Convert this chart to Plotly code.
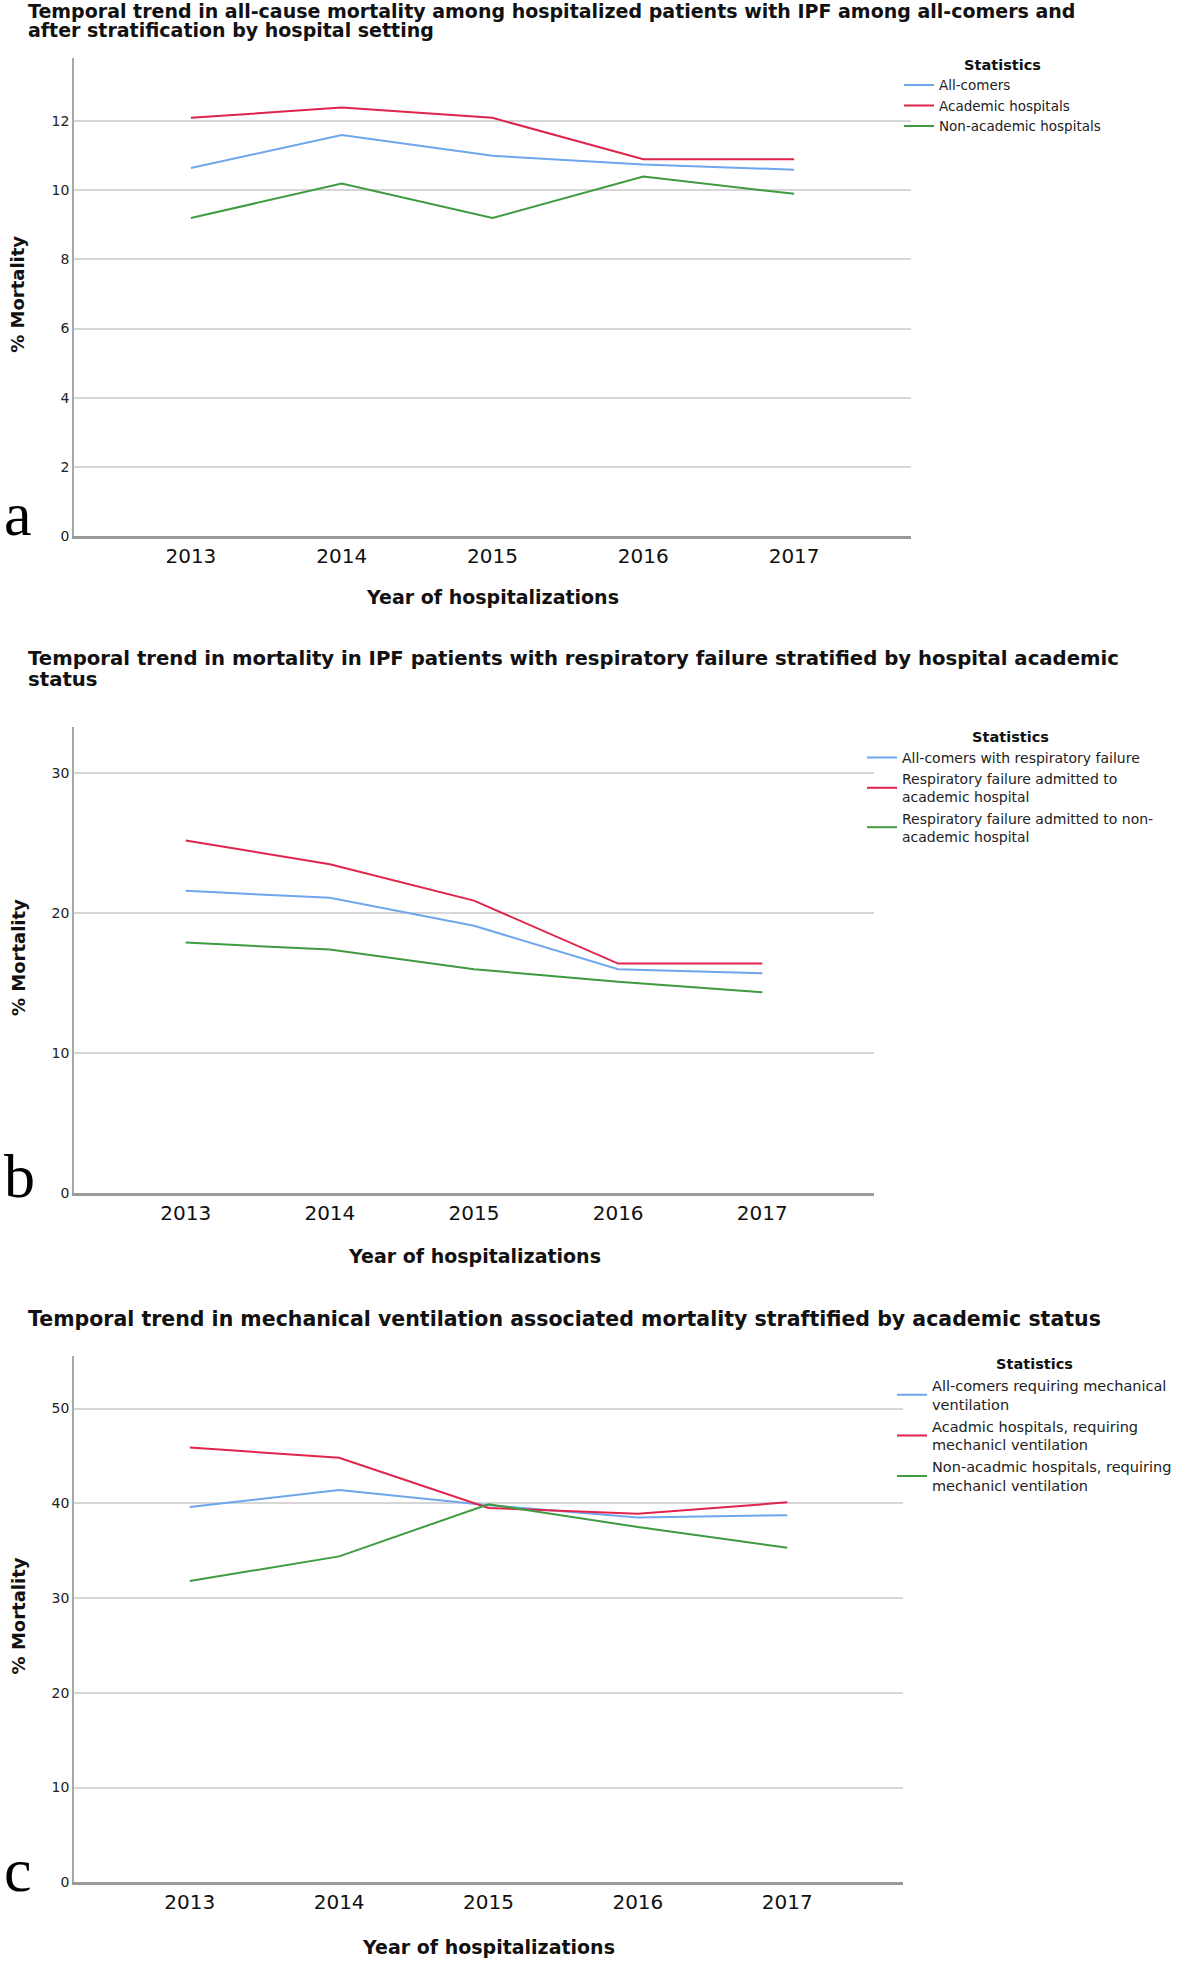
import plotly.graph_objects as go

W, H = 1181, 1964

# ---- data ----
years = [2013, 2014, 2015, 2016, 2017]

# panel a: all-cause mortality
a_all = [10.65, 11.6, 11.0, 10.75, 10.6]
a_acad = [12.1, 12.4, 12.1, 10.9, 10.9]
a_nonacad = [9.2, 10.2, 9.2, 10.4, 9.9]

# panel b: respiratory failure
b_all = [21.6, 21.1, 19.1, 16.0, 15.7]
b_acad = [25.2, 23.5, 20.9, 16.4, 16.4]
b_nonacad = [17.9, 17.4, 16.0, 15.1, 14.35]

# panel c: mechanical ventilation
c_all = [39.6, 41.4, 39.8, 38.5, 38.75]
c_acad = [45.9, 44.8, 39.5, 38.9, 40.1]
c_nonacad = [31.8, 34.4, 39.9, 37.5, 35.3]

names_a = ["All-comers", "Academic hospitals", "Non-academic hospitals"]
names_b = ["All-comers with respiratory failure",
           "Respiratory failure admitted to<br>academic hospital",
           "Respiratory failure admitted to non-<br>academic hospital"]
names_c = ["All-comers requiring mechanical<br>ventilation",
           "Acadmic hospitals, requiring<br>mechanicl ventilation",
           "Non-acadmic hospitals, requiring<br>mechanicl ventilation"]

titles = {
    "a": ["Temporal trend in all-cause mortality among hospitalized patients with IPF among all-comers and",
          "after stratification by hospital setting"],
    "b": ["Temporal trend in mortality in IPF patients with respiratory failure stratified by hospital academic",
          "status"],
    "c": ["Temporal trend in mechanical ventilation associated mortality straftified by academic status"],
}

colors = ["#6FA6EC", "#E0244C", "#3F9B3F"]
SANS = "DejaVu Sans"


def fx(p):
    return p / W


def fy(p):
    return 1 - p / H


# pixel geometry of each panel
panels = [
    dict(key="a", series=[a_all, a_acad, a_nonacad], names=names_a,
         l=74, r=911, t=58, b=538, ymax=13.84, dtick=2,
         title_y=[11, 30], title_size=19, xt_y=599, yt_y=296, letter_y=539,
         leg=(899, 51), leg_size=13.5),
    dict(key="b", series=[b_all, b_acad, b_nonacad], names=names_b,
         l=74, r=874, t=729.5, b=1197.8, ymax=33.35, dtick=10,
         title_y=[661, 682], title_size=19.7, xt_y=1261, yt_y=962, letter_y=1204,
         leg=(862, 726), leg_size=14),
    dict(key="c", series=[c_all, c_acad, c_nonacad], names=names_c,
         l=74, r=903, t=1362, b=1890, ymax=55.5, dtick=10,
         title_y=[1324], title_size=20.5, xt_y=1955, yt_y=1623, letter_y=1901,
         leg=(892, 1356), leg_size=14.5),
]

fig = go.Figure()
annotations = []
layout = {}

for i, p in enumerate(panels):
    n = "" if i == 0 else str(i + 1)
    legname = "legend" + n
    for j, (vals, name) in enumerate(zip(p["series"], p["names"])):
        fig.add_trace(go.Scatter(
            x=years, y=vals, mode="lines", name=name,
            line=dict(color=colors[j], width=2),
            xaxis="x" + n, yaxis="y" + n, legend=legname,
        ))

    layout["xaxis" + n] = dict(
        domain=[fx(p["l"]), fx(p["r"])], range=[2012.225, 2017.775],
        anchor="y" + n, tickvals=years, ticks="", showgrid=False,
        showline=True, linecolor="#9a9a9a", linewidth=2.5, zeroline=False,
        tickfont=dict(family=SANS, size=20, color="#111"),
    )
    layout["yaxis" + n] = dict(
        domain=[fy(p["b"]), fy(p["t"])], range=[0, p["ymax"]],
        anchor="x" + n, dtick=p["dtick"], tick0=0, ticks="",
        showgrid=True, gridcolor="#d6d6d6", gridwidth=2,
        showline=True, linecolor="#a8a8a8", linewidth=1.5, zeroline=False,
        tickfont=dict(family=SANS, size=14, color="#222"),
    )
    layout[legname] = dict(
        x=fx(p["leg"][0]), y=fy(p["leg"][1]), xanchor="left", yanchor="top",
        bgcolor="rgba(0,0,0,0)",
        title=dict(text="<b>Statistics</b>", side="top center",
                   font=dict(family=SANS, size=14.5, color="#111")),
        font=dict(family=SANS, size=p["leg_size"], color="#222"),
        itemwidth=30, tracegroupgap=2,
    )

    # chart title lines
    for line, ty in zip(titles[p["key"]], p["title_y"]):
        annotations.append(dict(
            text="<b>" + line + "</b>", x=fx(26), y=fy(ty), xref="paper", yref="paper",
            xanchor="left", yanchor="middle", showarrow=False,
            font=dict(family=SANS, size=p["title_size"], color="#111"),
        ))
    # axis titles
    annotations.append(dict(
        text="<b>Year of hospitalizations</b>", x=fx((p["l"] + p["r"]) / 2), y=fy(p["xt_y"]),
        xref="paper", yref="paper", xanchor="center", yanchor="middle", showarrow=False,
        font=dict(family=SANS, size=19, color="#111"),
    ))
    annotations.append(dict(
        text="<b>% Mortality</b>", x=fx(18), y=fy(p["yt_y"]), textangle=-90,
        xref="paper", yref="paper", xanchor="center", yanchor="middle", showarrow=False,
        font=dict(family=SANS, size=18, color="#111"),
    ))
    # panel letter
    annotations.append(dict(
        text=p["key"], x=fx(2), y=fy(p["letter_y"] + 13), xref="paper", yref="paper",
        xanchor="left", yanchor="bottom", showarrow=False,
        font=dict(family="Liberation Serif", size=62, color="#000"),
    ))

fig.update_layout(
    width=W, height=H, margin=dict(l=0, r=0, t=0, b=0),
    plot_bgcolor="white", paper_bgcolor="white",
    annotations=annotations, **layout,
)

# drop the default page margin so the figure fills the window exactly
fig.write_html("out.html", config={"displayModeBar": False},
               post_script="document.body.style.margin='0';")
